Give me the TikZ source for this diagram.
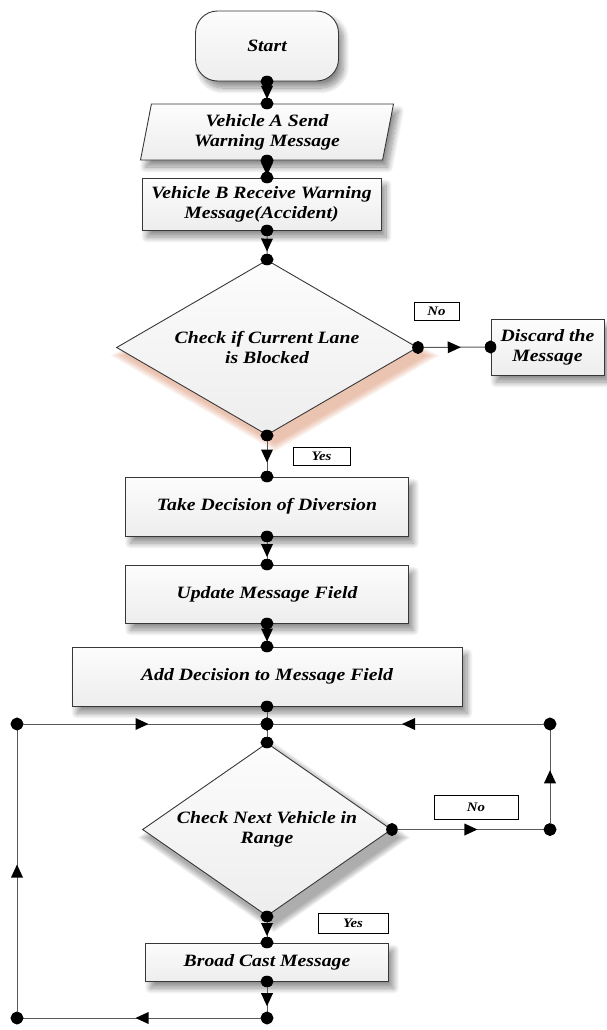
\documentclass[tikz,border=0pt]{standalone}
\usepackage{fontspec}
\setmainfont{Liberation Serif}[FakeStretch=1.14]
\usetikzlibrary{shapes.geometric,arrows.meta,decorations.markings,shadows.blur,calc}

\definecolor{linecol}{gray}{0.35}
\definecolor{edgecol}{gray}{0.22}
\definecolor{peach}{RGB}{205,105,60}
\definecolor{shadegrey}{gray}{0.2}

\pgfdeclarelayer{background}
\pgfsetlayers{background,main}

\tikzset{
  txt/.style={font=\fontsize{17.3}{20}\selectfont\bfseries\itshape, align=center},
  boxshade/.style={top color=gray!2, bottom color=gray!14, draw=edgecol, line width=0.9pt},
  softshadow/.style={blur shadow={shadow xshift=5pt, shadow yshift=-7pt, shadow blur radius=6pt, shadow blur steps=12, shadow opacity=45}},
  procbox/.style={rectangle, boxshade, softshadow, txt, inner sep=0pt},
  decision/.style={diamond, boxshade, txt, inner sep=0pt},
  tag/.style={rectangle, draw=black, line width=1pt, fill=white, inner sep=0pt, font=\fontsize{13}{15}\selectfont\bfseries\itshape},
  dotends/.style={line width=1pt, draw=linecol,
    {Circle[length=11.5pt,width=13pt,black]}-{Circle[length=11.5pt,width=13pt,black]},
    shorten <=-5.75pt, shorten >=-5.75pt},
  flow/.style={dotends, postaction=decorate,
    decoration={markings, mark=at position 0.5 with {\fill[black] (6.5pt,0pt) -- (-6.5pt,6pt) -- (-6.5pt,-6pt) -- cycle;}}},
  haze/.style={opacity=0.055},
}

\begin{document}
\begin{tikzpicture}[x=1pt, y=-1pt]
\useasboundingbox (0,0) rectangle (606,1030);

% process steps
\node[procbox, rounded corners=22pt, minimum width=143pt, minimum height=70pt] (start) at (267,46) {Start};
\node[procbox, trapezium, trapezium left angle=73, trapezium right angle=107, trapezium stretches body,
      minimum width=253pt, minimum height=56pt] (send) at (267,132) {Vehicle A Send\\Warning Message};
\node[procbox, minimum width=239pt, minimum height=52pt] (recv) at (261.5,204) {Vehicle B Receive Warning\\Message(Accident)};
\node[decision, shape aspect=1.72, minimum width=301pt, minimum height=175pt] (lane) at (267,347.5) {Check if Current Lane\\is Blocked};
\node[procbox, minimum width=113pt, minimum height=56pt] (discard) at (547.5,347) {Discard the\\Message};
\node[procbox, minimum width=283pt, minimum height=59pt] (divert) at (267,506.5) {Take Decision of Diversion};
\node[procbox, minimum width=283pt, minimum height=58pt] (update) at (267,594) {Update Message Field};
\node[procbox, minimum width=390pt, minimum height=59pt] (adddec) at (267,676.5) {Add Decision to Message Field};
\node[decision, shape aspect=1.44, minimum width=249pt, minimum height=173pt] (range) at (267,829.5) {Check Next Vehicle in\\Range};
\node[procbox, minimum width=243pt, minimum height=38pt] (cast) at (267,962) {Broad Cast Message};

% soft shadows behind the two decisions
\begin{pgfonlayer}{background}
\foreach \r in {0,1,...,8} {
  \fill[peach, haze] ($(lane.north)+(0,22-\r)$) -- ($(lane.east)+(8+1.7*\r,8)$)
    -- ($(lane.south)+(8,8+\r)$) -- ($(lane.west)+(8-1.7*\r,8)$) -- cycle;
  \fill[shadegrey, haze] ($(range.north)+(7,8-\r)$) -- ($(range.east)+(7+1.4*\r,8)$)
    -- ($(range.south)+(7,8+\r)$) -- ($(range.west)+(7-1.4*\r,8)$) -- cycle;
}
\end{pgfonlayer}

% branch labels
\node[tag, minimum width=45pt, minimum height=18pt] (no1) at (436.5,311) {No};
\node[tag, minimum width=57pt, minimum height=18pt] (yes1) at (321.5,456) {Yes};
\node[tag, minimum width=84pt, minimum height=24pt] (no2) at (476,807) {No};
\node[tag, minimum width=70pt, minimum height=20pt] (yes2) at (353,923) {Yes};

% loop corners
\coordinate (jn) at (267,724);
\coordinate (rb) at (550,829.5);
\coordinate (rt) at (550,724);
\coordinate (bb) at (267,1018);
\coordinate (lb) at (17,1018);
\coordinate (lt) at (17,724);

% connectors
\draw[flow] (start.south) -- (send.north);
\draw[flow] (send.south) -- (send.south |- recv.north);
\draw[flow] (send.south |- recv.south) -- (lane.north);
\draw[flow] (lane.east) -- (discard.west);
\draw[flow] (lane.south) -- (divert.north);
\draw[flow] (divert.south) -- (update.north);
\draw[flow] (update.south) -- (adddec.north);
\draw[dotends] (adddec.south) -- (jn);
\draw[dotends] (jn) -- (range.north);
\draw[flow] (range.east) -- (rb);
\draw[flow] (rb) -- (rt);
\draw[flow] (rt) -- (jn);
\draw[flow] (range.south) -- (cast.north);
\draw[flow] (cast.south) -- (bb);
\draw[flow] (bb) -- (lb);
\draw[flow] (lb) -- (lt);
\draw[flow] (lt) -- (jn);
\end{tikzpicture}
\end{document}
